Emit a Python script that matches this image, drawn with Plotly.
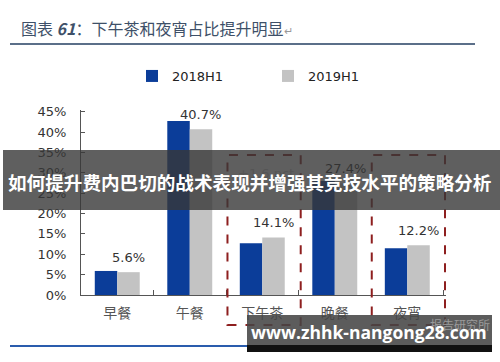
import plotly.graph_objects as go

categories = ["早餐", "午餐", "下午茶", "晚餐", "夜宵"]
h1_2018 = [5.9, 42.7, 12.7, 28.0, 11.5]
h1_2019 = [5.6, 40.7, 14.1, 27.4, 12.2]
yticks = [0, 5, 10, 15, 20, 25, 30, 35, 40, 45]
ytick_text = [f"{v}%" for v in yticks]
series_names = ["2018H1", "2019H1"]

W, H = 500, 362
L, R, T, B = 81, 446, 110, 295   # plot area in pixels
YMAX = 45.4

def px(x):
    return (x - L) / (R - L)

def py(y):
    return (B - y) / (B - T)

fig = go.Figure()
fig.add_bar(x=categories, y=h1_2018, name=series_names[0], legend="legend",
            marker=dict(color="#0b3d99", line=dict(width=0)))
fig.add_bar(x=categories, y=h1_2019, name=series_names[1], legend="legend2",
            marker=dict(color="#c3c3c3", line=dict(width=0)))

legfont = dict(family="DejaVu Sans", size=13, color="#222222")
fig.update_layout(
    width=W, height=H,
    margin=dict(l=L, r=W - R, t=T, b=H - B, pad=0),
    paper_bgcolor="white", plot_bgcolor="white",
    barmode="group", bargap=0.38, bargroupgap=0,
    showlegend=True,
    legend=dict(orientation="h", x=px(132), y=py(76), xanchor="left", yanchor="middle",
                itemwidth=30, font=legfont, bgcolor="rgba(0,0,0,0)"),
    legend2=dict(orientation="h", x=px(268), y=py(76), xanchor="left", yanchor="middle",
                 itemwidth=30, font=legfont, bgcolor="rgba(0,0,0,0)"),
    font=dict(family="Noto Sans CJK SC"),
)
fig.update_yaxes(range=[0, YMAX], tickvals=yticks, ticktext=ytick_text,
                 showgrid=False, zeroline=False, showline=True, linecolor="#555555",
                 linewidth=1, ticks="inside", ticklen=4, tickcolor="#555555",
                 ticklabelstandoff=11,
                 tickfont=dict(family="DejaVu Sans", size=13, color="#333333"))
fig.update_xaxes(showgrid=False, showline=True, linecolor="#555555", linewidth=1,
                 ticks="inside", ticklen=5, tickcolor="#555555", tickson="boundaries",
                 ticklabelstandoff=5,
                 tickfont=dict(family="Noto Sans CJK SC", size=14, color="#555555"))

shapes = []
shapes.append(dict(type="line", xref="paper", yref="paper", x0=px(10), x1=px(475),
                   y0=py(44), y1=py(44), line=dict(color="#5b6f89", width=2)))
shapes.append(dict(type="line", xref="paper", yref="paper", x0=px(10), x1=px(470),
                   y0=py(346), y1=py(346), line=dict(color="#2a5cad", width=2)))
for c0, c1 in [(1.52, 2.53), (3.51, 4.52)]:
    shapes.append(dict(type="rect", xref="x", yref="paper", x0=c0, x1=c1,
                       y0=py(325), y1=py(155),
                       line=dict(color="#8e1f1f", width=2, dash="dash"),
                       fillcolor="rgba(0,0,0,0)"))
shapes.append(dict(type="rect", xref="paper", yref="paper", x0=px(3), x1=px(500),
                   y0=py(210), y1=py(150), fillcolor="rgba(55,55,55,0.80)",
                   line=dict(width=0), layer="above"))
shapes.append(dict(type="rect", xref="paper", yref="paper", x0=px(247), x1=px(492),
                   y0=py(345), y1=py(315), fillcolor="rgba(70,70,70,0.88)",
                   line=dict(width=0), layer="above"))
shapes.append(dict(type="rect", xref="paper", yref="paper", x0=px(247), x1=px(492),
                   y0=py(352), y1=py(345), fillcolor="#111111",
                   line=dict(width=0), layer="above"))
fig.update_layout(shapes=shapes)

anns = []
# value labels above the 2019H1 bars
for cat, v in zip(categories, h1_2019):
    anns.append(dict(xref="x", yref="y", x=cat, y=v, xshift=11, yshift=15,
                     xanchor="center", yanchor="middle", showarrow=False,
                     text=f"{v}%",
                     font=dict(family="DejaVu Sans", size=13, color="#333333")))
anns.append(dict(xref="paper", yref="paper", x=px(19), y=py(28), xanchor="left",
                 yanchor="middle", showarrow=False,
                 text="图表 <b><i>61</i></b>：下午茶和夜宵占比提升明显<span style='font-size:11px;color:#999'>↵</span>",
                 font=dict(family="Noto Sans CJK SC", size=16, color="#3e5068")))
anns.append(dict(xref="paper", yref="paper", x=px(266), y=py(173), showarrow=False,
                 xanchor="center", yanchor="middle",
                 text="+1.6 pct", font=dict(family="DejaVu Sans", size=13, color="#555555")))
anns.append(dict(xref="paper", yref="paper", x=px(250), y=py(181), showarrow=False,
                 xanchor="center", yanchor="middle",
                 text="<b>如何提升费内巴切的战术表现并增强其竞技水平的策略分析</b>",
                 font=dict(family="Noto Sans CJK SC", size=18.6, color="white")))
anns.append(dict(xref="paper", yref="paper", x=px(460), y=py(324), showarrow=False,
                 xanchor="center", yanchor="middle",
                 text="报告研究所", font=dict(family="Noto Sans CJK SC", size=12, color="#9a9a9a")))
anns.append(dict(xref="paper", yref="paper", x=px(369), y=py(332), showarrow=False,
                 xanchor="center", yanchor="middle",
                 text="<b>www.zhhk-nangong28.com</b>",
                 font=dict(family="Open Sans", size=17.5, color="white")))
fig.update_layout(annotations=anns)

fig.write_html("out.html", config={"displayModeBar": False},
               post_script="document.body.style.margin='0';")
